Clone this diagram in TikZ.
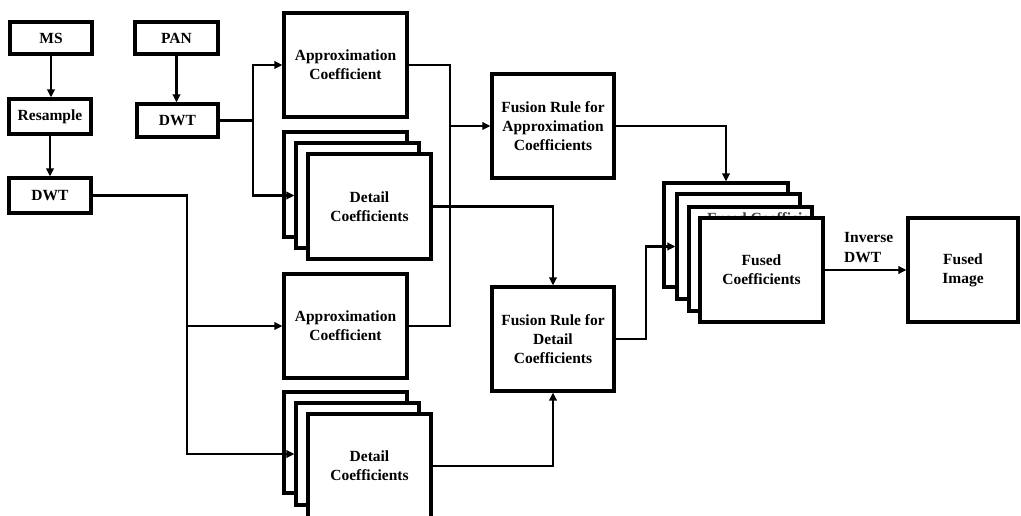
\documentclass[tikz,border=0pt]{standalone}
\usepackage{fontspec}
\setmainfont{Liberation Serif}
\usetikzlibrary{arrows.meta}
\begin{document}
\begin{tikzpicture}[x=1pt,y=-1pt,
  box/.style={draw=black,line width=3.2pt,fill=white,align=center,inner sep=0pt,
    font=\fontsize{15.5}{19}\selectfont\bfseries},
  conn/.style={line width=2.3pt},
  arr/.style={conn,-{Triangle[length=8pt,width=7.5pt]}},
  lbl/.style={align=left,inner sep=0pt,font=\fontsize{15.5}{20}\selectfont\bfseries}]
\useasboundingbox (0,0) rectangle (1021,516);
\clip (0,0) rectangle (1021,516);
% left column
\node[box,minimum width=82pt,minimum height=32pt] (ms) at (51,38) {MS};
\node[box,minimum width=83pt,minimum height=32pt] (pan) at (176.5,38) {PAN};
\node[box,minimum width=82pt,minimum height=35pt] (res) at (50,116.5) {Resample};
\node[box,minimum width=81pt,minimum height=33pt] (dwtp) at (177.5,120.5) {DWT};
\node[box,minimum width=82pt,minimum height=35pt] (dwtm) at (50,195.5) {DWT};
% coefficient boxes (PAN)
\node[box,minimum width=123pt,minimum height=104pt] (a1) at (345.5,65) {Approximation\\Coefficient};
\node[box,minimum width=123pt,minimum height=105pt] (d1b) at (345.5,184.5) {};
\node[box,minimum width=123pt,minimum height=105pt] (d1m) at (357.5,195.5) {};
\node[box,minimum width=123pt,minimum height=105pt] (d1f) at (369.5,206.5) {Detail\\Coefficients};
% coefficient boxes (MS)
\node[box,minimum width=123pt,minimum height=104pt] (a2) at (345.5,326) {Approximation\\Coefficient};
\node[box,minimum width=123pt,minimum height=101pt] (d2b) at (345.5,442.5) {};
\node[box,minimum width=123pt,minimum height=102pt] (d2m) at (357.5,454) {};
\node[box,minimum width=123pt,minimum height=104pt] (d2f) at (369.5,466) {Detail\\Coefficients};
% fusion rules
\node[box,minimum width=122pt,minimum height=104pt] (fa) at (553,126) {Fusion Rule for\\Approximation\\Coefficients};
\node[box,minimum width=122pt,minimum height=104pt] (fd) at (553,339) {Fusion Rule for\\Detail\\Coefficients};
% fused coefficient stack
\node[box,minimum width=124pt,minimum height=104pt] (f1) at (726,235) {};
\node[box,minimum width=123pt,minimum height=105pt] (f2) at (738.5,246.5) {};
\node[box,minimum width=123pt,minimum height=104pt] (f3) at (750.5,259) {};
\begin{scope}
  \clip ([shift={(1.6pt,-1.6pt)}]f3.south west) rectangle ([shift={(-1.6pt,1.6pt)}]f3.north east);
  \node[lbl,text=black!75,anchor=north west] (f3t) at (707,212) {Fused Coefficients};
\end{scope}
\node[box,minimum width=123pt,minimum height=104pt] (f4) at (761.5,270) {Fused\\Coefficients};
\node[box,minimum width=110pt,minimum height=104pt] (img) at (963,270) {Fused\\Image};
\node[lbl,anchor=north west] (inv) at (844,232) {Inverse\\DWT};
% connectors
\draw[arr] (ms.south) -- (ms.south |- res.north);
\draw[arr] (res.south) -- (res.south |- dwtm.north);
\draw[arr] (pan.south) -- (pan.south |- dwtp.north);
\coordinate (j1) at (253,120.5);
\draw[conn] (dwtp.east) -- (j1);
\draw[arr] (j1) |- (a1.west);
\draw[arr] (j1) |- (d1m.west);
\coordinate (j2) at (450,126);
\draw[conn] (a1.east) -| (j2) |- (a2.east);
\draw[arr] (j2) -- (fa.west);
\draw[arr] (d1f.east) -| (fd.north);
\coordinate (j3) at (187,454);
\draw[arr] (dwtm.east) -| (j3) -- (d2m.west);
\draw[arr] (j3 |- a2.west) -- (a2.west);
\draw[arr] (d2f.east) -| (fd.south);
\draw[arr] (fa.east) -| (f1.north);
\coordinate (j4) at (646,246.5);
\draw[arr] (fd.east) -| (j4) -- (f2.west);
\draw[arr] (f4.east) -- (img.west);
\end{tikzpicture}
\end{document}
